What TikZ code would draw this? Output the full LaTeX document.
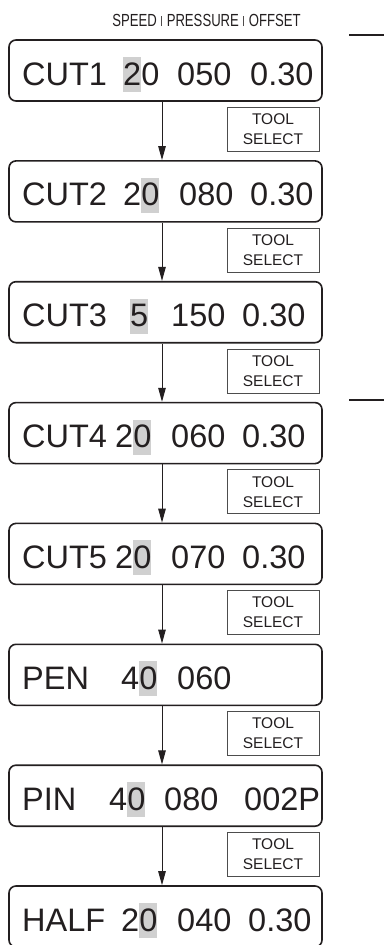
\documentclass[tikz,border=0pt]{standalone}
\usepackage{fontspec}
\setmainfont{Liberation Sans}
\usetikzlibrary{arrows.meta}
\definecolor{ink}{HTML}{231F20}
\definecolor{hlgray}{HTML}{D0D0D0}
\definecolor{tsline}{HTML}{4D4D4D}
\newcommand\hlbox[1]{{\setlength\fboxsep{0pt}\colorbox{hlgray}{\rule[-7pt]{0pt}{35pt}#1}}}
\newcommand\hdrbar{\textcolor{ink!80}{\rule[0pt]{1.3pt}{10pt}}}
\tikzset{
  rowbox/.style={draw=ink, line width=1.6pt, rounded corners=7pt,
    minimum width=313pt, minimum height=61pt, inner sep=0pt},
  tok/.style={anchor=base west, inner sep=0pt,
    font=\fontsize{32.5}{39}\selectfont, text=ink},
  toolbox/.style={draw=tsline, line width=0.9pt, minimum width=92pt,
    minimum height=44pt, inner sep=0pt, align=center, anchor=north,
    font=\fontsize{15.5}{20}\selectfont, text=ink},
  flow/.style={draw=ink, line width=1pt, -{Triangle[length=14pt,width=7.5pt]}},
  hdrtext/.style={anchor=base, inner sep=0pt,
    font=\fontsize{17.5}{20}\selectfont, text=ink},
  sideline/.style={draw=ink, line width=1.4pt}
}
% \rowline{k}{top}{A}{B}{xB}{C}{xC}{D}{xD}
\newcommand\rowline[9]{%
  \node[rowbox] (r#1) at (165.5,#2+30.5) {};
  \node[tok] (t#1a) at (22,#2+45) {#3};
  \node[tok] (t#1b) at (#5-1,#2+45) {#4};
  \node[tok] (t#1c) at (#7-1,#2+45) {#6};
  \node[tok] (t#1d) at (#9-1,#2+45) {#8};
}
\begin{document}
\begin{tikzpicture}[x=1pt,y=-1pt]
\useasboundingbox (0,0) rectangle (384,945);
\clip (0,0) rectangle (384,945);
\fill[white] (0,0) rectangle (384,945);

% header
\node[hdrtext] (hdr) at (206.5,26) {\scalebox{0.75}[1]{SPEED\hspace{6pt}\hdrbar\hspace{6pt}PRESSURE\hspace{6pt}\hdrbar\hspace{6pt}OFFSET}};

% right-hand lines
\coordinate (m1a) at (349,35);
\coordinate (m1b) at (384,35);
\coordinate (m2a) at (349,400);
\coordinate (m2b) at (384,400);
\draw[sideline] (m1a) -- (m1b);
\draw[sideline] (m2a) -- (m2b);

% arrow column
\coordinate (ax) at (162,0);

% rows
\rowline{1}{40}{CUT1}{\hlbox{2}0}{124}{050}{178}{0.30}{251}
\rowline{2}{160.9}{CUT2}{2\hlbox{0}}{124}{080}{180}{0.30}{251}
\rowline{3}{281.7}{CUT3}{\hlbox{5}}{131}{150}{172}{0.30}{243}
\rowline{4}{402.6}{CUT4}{2\hlbox{0}}{116}{060}{172}{0.30}{243}
\rowline{5}{523.4}{CUT5}{2\hlbox{0}}{116}{070}{172}{0.30}{243}
\node[rowbox] (r6) at (165.5,644.3+30.5) {};
\node[tok] (t6a) at (22,644.3+45) {PEN};
\node[tok] (t6b) at (121,644.3+45) {4\hlbox{0}};
\node[tok] (t6c) at (177,644.3+45) {060};
\rowline{7}{765.2}{PIN}{4\hlbox{0}}{110}{080}{165}{002P}{245}
\rowline{8}{886}{HALF}{2\hlbox{0}}{122}{040}{178}{0.30}{249}

% tool select boxes and arrows
\foreach \k in {1,...,7}{
  \pgfmathtruncatemacro\nk{\k+1}
  \node[toolbox] (ts\k) at ([yshift=-5pt]r\k.south -| 273,0) {TOOL\\SELECT};
  \draw[flow] (r\k.south -| ax) -- (r\nk.north -| ax);
}
\end{tikzpicture}
\end{document}
